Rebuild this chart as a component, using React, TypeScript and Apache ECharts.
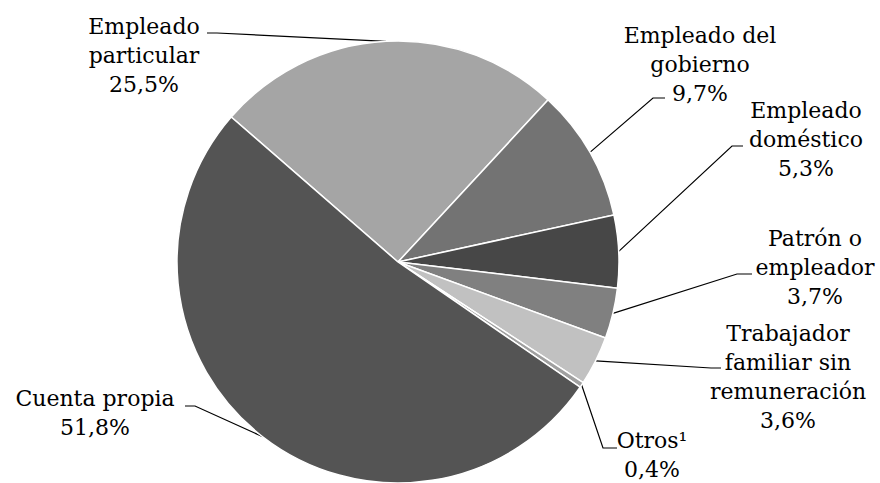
import React, { useEffect, useRef } from "react";
import * as echarts from "echarts";

// ---- data ----
const categories = [
  "Empleado\nparticular",
  "Empleado del\ngobierno",
  "Empleado\ndoméstico",
  "Patrón o\nempleador",
  "Trabajador\nfamiliar sin\nremuneración",
  "Otros¹",
  "Cuenta propia",
];
const shares = [25.5, 9.7, 5.3, 3.7, 3.6, 0.4, 51.8];
const sliceColors = ["#a5a5a5", "#737373", "#474747", "#808080", "#c1c1c1", "#a0a0a0", "#545454"];

// ---- layout (label block centre, leader attach offset, bend offset) ----
const CENTER: [number, number] = [398, 262];
const RADIUS = 221;
const START_ANGLE = 139;
const labelPlacement = [
  { x: 144, y: 55, ax: 63, ay: -22, bend: 10 },
  { x: 700, y: 64, ax: -35, ay: 34, bend: -12 },
  { x: 806, y: 139, ax: -63, ay: 7, bend: -11 },
  { x: 815, y: 267, ax: -63, ay: 7, bend: -15 },
  { x: 788, y: 377, ax: -67, ay: -9, bend: -10 },
  { x: 652, y: 455, ax: -35, ay: -7, bend: -14 },
  { x: 95, y: 413, ax: 90, ay: -7, bend: 10 },
];

const FONT = "DejaVu Serif";

function fmt(v: number) {
  return v.toFixed(1).replace(".", ",") + "%";
}

export default function App() {
  const ref = useRef<HTMLDivElement>(null);
  useEffect(() => {
    if (!ref.current) return;
    const chart = echarts.init(ref.current, undefined, { renderer: "svg" });
    const total = shares.reduce((a, b) => a + b, 0);
    const fallbackEdge = (i: number) => {
      let cum = 0;
      for (let k = 0; k < i; k++) cum += shares[k];
      const mid = START_ANGLE - ((cum + shares[i] / 2) / total) * 360;
      const rad = (mid * Math.PI) / 180;
      return [CENTER[0] + RADIUS * Math.cos(rad), CENTER[1] - RADIUS * Math.sin(rad)];
    };
    const txt = { fontFamily: FONT, fontSize: 22, lineHeight: 29, color: "#000000", align: "center" };
    chart.setOption({
      animation: false,
      backgroundColor: "#ffffff",
      textStyle: { fontFamily: FONT },
      series: [
        {
          type: "pie",
          center: CENTER,
          radius: RADIUS,
          startAngle: START_ANGLE,
          clockwise: true,
          avoidLabelOverlap: false,
          data: categories.map((c, i) => ({
            name: c,
            value: shares[i],
            itemStyle: { color: sliceColors[i] },
          })),
          itemStyle: { borderColor: "#ffffff", borderWidth: 1.5 },
          label: {
            show: true,
            position: "outer",
            formatter: (p: any) =>
              (p.name + "\n" + fmt(p.value))
                .split("\n")
                .map((s: string) => `{t|${s}}`)
                .join("\n"),
            ...txt,
            rich: { t: txt },
          },
          labelLine: {
            show: true,
            length: 10,
            length2: 10,
            lineStyle: { color: "#000000", width: 1.2 },
          },
          labelLayout: (params: any) => {
            const p = labelPlacement[params.dataIndex];
            const end = [p.x + p.ax, p.y + p.ay];
            const bendPt = [end[0] + p.bend, end[1]];
            const start =
              params.labelLinePoints && params.labelLinePoints[0]
                ? params.labelLinePoints[0]
                : fallbackEdge(params.dataIndex);
            return {
              x: p.x,
              y: p.y,
              align: "center",
              verticalAlign: "middle",
              labelLinePoints: [start, bendPt, end],
            };
          },
          emphasis: { disabled: true },
        },
      ],
    });
    return () => chart.dispose();
  }, []);
  return (
    <div
      ref={ref}
      style={{ position: "absolute", left: 0, top: 0, width: 880, height: 483 }}
    />
  );
}
